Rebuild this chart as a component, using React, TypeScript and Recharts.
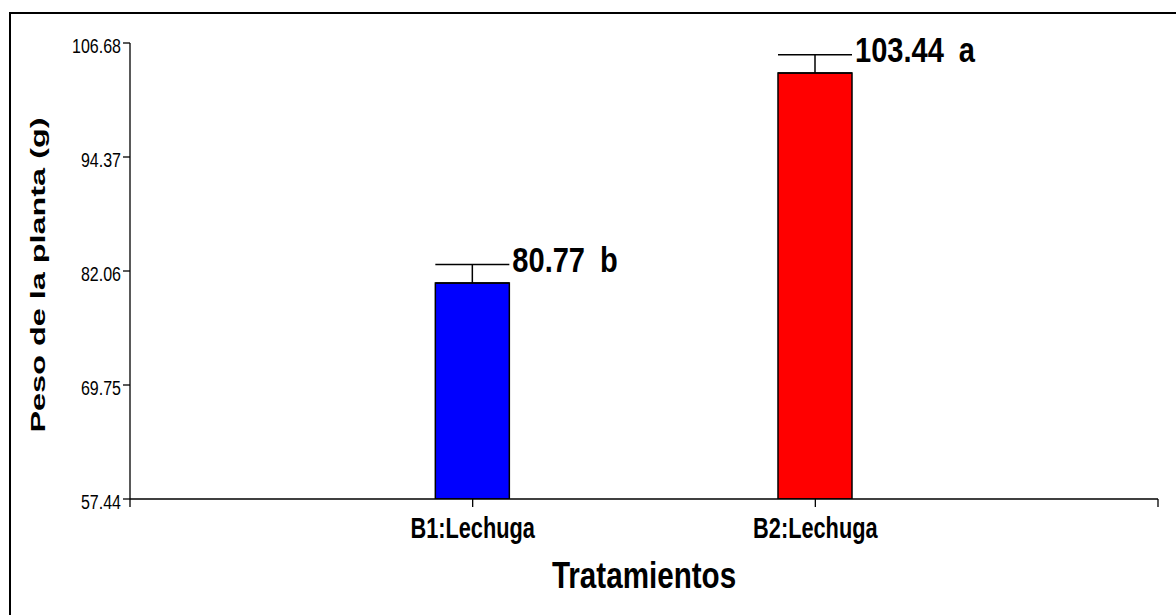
import React from 'react';
import { ComposedChart, Bar, Cell, ErrorBar, XAxis, YAxis, LabelList } from 'recharts';

// Plant weight by treatment (mean, standard error, Tukey group letter)
const treatments = ['B1:Lechuga', 'B2:Lechuga'];
const xPositions = [1, 2];
const means = [80.77, 103.44];
const errors = [1.98, 1.98];
const groups = ['b', 'a'];
const barColors = ['#0000FF', '#FF0000'];
const yTicks = [57.44, 69.75, 82.06, 94.37, 106.68];
const xTicks = [0, 1, 2, 3];

const data = treatments.map((name, i) => ({
  pos: xPositions[i],
  name,
  mean: means[i],
  err: [0, errors[i]],
}));

const SANS = "'Liberation Sans', Arial, sans-serif";

// Horizontally condensed text (narrow face look) anchored at (x, y)
const NarrowText = ({
  x,
  y,
  size,
  scale,
  bold = false,
  anchor = 'start',
  children,
}: {
  x: number;
  y: number;
  size: number;
  scale: number;
  bold?: boolean;
  anchor?: 'start' | 'middle' | 'end';
  children: React.ReactNode;
}) => (
  <text
    transform={`translate(${x},${y}) scale(${scale},1)`}
    textAnchor={anchor}
    fontFamily={SANS}
    fontSize={size}
    fontWeight={bold ? 'bold' : 'normal'}
    fill="#000"
  >
    {children}
  </text>
);

const XTick = (props: any) => {
  const { x, y, payload } = props;
  const idx = xPositions.indexOf(payload.value);
  if (idx < 0) return null;
  return (
    <NarrowText x={x} y={y + 29} size={29} scale={0.75} bold anchor="middle">
      {treatments[idx]}
    </NarrowText>
  );
};

const YTick = (props: any) => {
  const { x, y, payload } = props;
  return (
    <NarrowText x={x} y={y + 9.5} size={20} scale={0.8} anchor="end">
      {Number(payload.value).toFixed(2)}
    </NarrowText>
  );
};

const ValueLabel = (props: any) => {
  const { x, y, width, height, value, index } = props;
  const k = height / (value - yTicks[0]);
  const capY = y - errors[index] * k;
  return (
    <NarrowText x={x + width + 3} y={capY + 7} size={35} scale={0.83} bold>
      {Number(value).toFixed(2)}
      <tspan dx={18}>{groups[index]}</tspan>
    </NarrowText>
  );
};

const YTitle = (props: any) => {
  const vb = props.viewBox;
  const cx = vb.x + 45;
  const cy = vb.y + vb.height / 2 + 4;
  return (
    <text
      x={cx}
      y={cy}
      transform={`rotate(-90, ${cx}, ${cy})`}
      textAnchor="middle"
      fontFamily={SANS}
      fontWeight="bold"
      fontSize={20}
      textLength={315}
      lengthAdjust="spacingAndGlyphs"
      fill="#000"
    >
      Peso de la planta (g)
    </text>
  );
};

const XTitle = (props: any) => {
  const vb = props.viewBox;
  return (
    <NarrowText x={vb.x + vb.width / 2} y={vb.y + 89} size={37} scale={0.8} bold anchor="middle">
      Tratamientos
    </NarrowText>
  );
};

export default function App() {
  return (
    <div style={{ position: 'fixed', left: 0, top: 0, width: 1176, height: 615, background: '#fff' }}>
      <div
        style={{
          position: 'absolute',
          left: 9,
          top: 12,
          width: 1167,
          height: 603,
          borderTop: '2.5px solid #000',
          borderLeft: '2.5px solid #000',
          boxSizing: 'border-box',
        }}
      />
      <div style={{ position: 'absolute', left: 0, top: 0 }}>
        <ComposedChart width={1176} height={615} data={data} margin={{ top: 43, right: 18, left: 0, bottom: 16 }}>
          <XAxis
            dataKey="pos"
            type="number"
            domain={[0, 3]}
            ticks={xTicks}
            interval={0}
            height={100}
            stroke="#000"
            strokeWidth={1.3}
            tickSize={8}
            tick={<XTick />}
            label={<XTitle />}
          />
          <YAxis
            type="number"
            domain={[yTicks[0], yTicks[yTicks.length - 1]]}
            ticks={yTicks}
            interval={0}
            width={130}
            stroke="#000"
            strokeWidth={1.3}
            tickSize={7}
            tickMargin={2}
            tick={<YTick />}
            allowDataOverflow
            label={<YTitle />}
          />
          <Bar dataKey="mean" barSize={74} stroke="#000" strokeWidth={1.5} isAnimationActive={false}>
            {data.map((d, i) => (
              <Cell key={d.name} fill={barColors[i]} />
            ))}
            <ErrorBar dataKey="err" direction="y" width={37} stroke="#000" strokeWidth={1.5} isAnimationActive={false} />
            <LabelList dataKey="mean" content={<ValueLabel />} />
          </Bar>
        </ComposedChart>
      </div>
    </div>
  );
}
